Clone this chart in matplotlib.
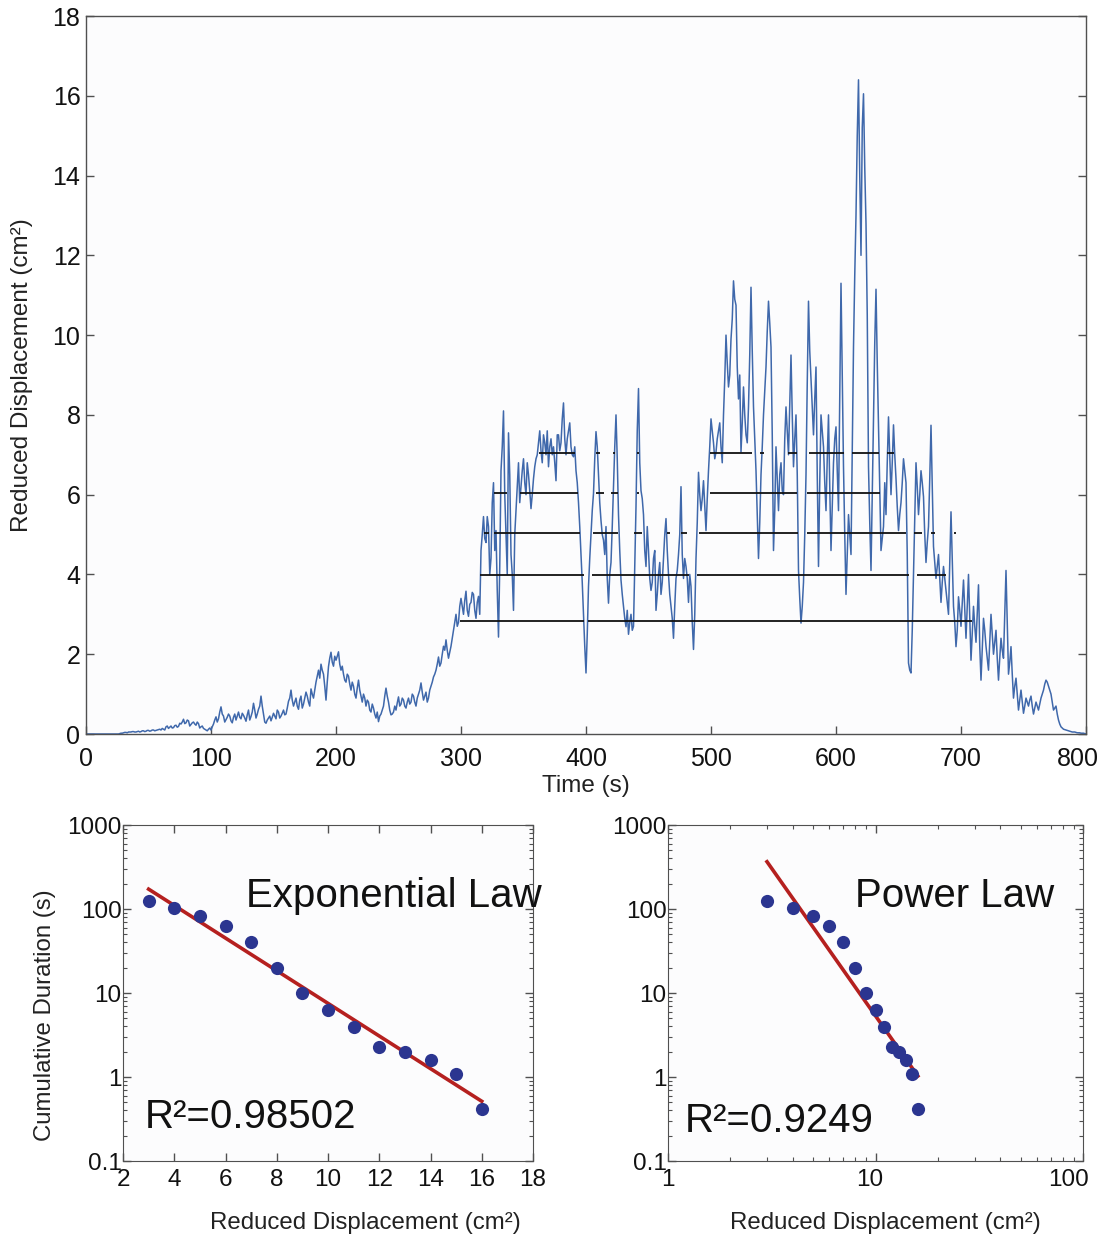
import numpy as np
import matplotlib
matplotlib.use("Agg")
import matplotlib.pyplot as plt
from matplotlib.ticker import FixedLocator, FixedFormatter, LogLocator, NullFormatter
from matplotlib.transforms import ScaledTranslation

plt.rcParams['font.family'] = ['Liberation Sans', 'DejaVu Sans']

# ---------------- data ----------------
# reduced displacement (cm^2) sampled at even seconds 0, 2, ..., 800
displacement_even = [
    0, 0, 0, 0, 0, 0, 0, 0, 0, 0,
    0, 0, 0, 0, 0.02, 0.03, 0.04, 0.05, 0.05, 0.06,
    0.05, 0.07, 0.06, 0.08, 0.07, 0.09, 0.08, 0.1, 0.09, 0.11,
    0.1, 0.12, 0.18, 0.14, 0.2, 0.16, 0.22, 0.19, 0.25, 0.37,
    0.28, 0.33, 0.24, 0.3, 0.22, 0.26, 0.18, 0.14, 0.1, 0.12,
    0.1, 0.25, 0.43, 0.38, 0.68, 0.45, 0.36, 0.5, 0.33, 0.42,
    0.35, 0.55, 0.38, 0.47, 0.32, 0.6, 0.44, 0.77, 0.4, 0.62,
    0.95, 0.5, 0.27, 0.4, 0.33, 0.52, 0.38, 0.55, 0.45, 0.6,
    0.5, 0.82, 1.1, 0.7, 0.9, 0.62, 0.95, 0.75, 1.05, 0.8,
    1.13, 0.9, 1.3, 1.6, 1.75, 1.5, 0.85, 1.69, 2.05, 1.7,
    1.85, 2.06, 1.6, 1.5, 1.3, 1.45, 1.1, 1.2, 0.9, 1.35,
    0.95, 1.0, 0.7, 0.8, 0.55, 0.65, 0.4, 0.31, 0.5, 0.7,
    1.15, 0.8, 0.48, 0.55, 0.6, 0.93, 0.75, 0.85, 0.65, 0.9,
    0.8, 0.95, 0.7, 1.0, 1.28, 0.85, 1.05, 0.9, 1.2, 1.43,
    1.6, 1.93, 1.78, 2.2, 2.36, 1.9, 2.2, 2.6, 3.0, 2.8,
    3.4, 3.0, 3.58, 2.95, 3.3, 3.5, 2.9, 3.45, 4.6, 5.45,
    4.8, 5.2, 4.4, 6.3, 5.1, 2.43, 6.6, 8.1, 5.0, 7.55,
    4.5, 3.1, 5.6, 6.8, 6.2, 6.9, 6.0, 6.5, 5.65, 6.4,
    6.9, 7.3, 7.1, 7.5, 7.0, 6.7, 7.4, 7.2, 6.35, 7.5,
    7.3, 8.3, 7.0, 7.6, 7.2, 6.95, 6.6, 5.8, 4.5, 3.0,
    1.53, 3.7, 5.0, 6.03, 7.58, 6.5, 5.35, 4.86, 5.2, 3.28,
    4.3, 6.2, 8.0, 5.5, 3.86, 3.2, 2.69, 2.5, 3.0, 2.7,
    5.7, 8.66, 6.1, 5.5, 4.2, 4.6, 3.6, 4.4, 3.1, 4.0,
    3.5, 4.4, 5.4, 4.0, 3.2, 2.4, 3.9, 4.5, 6.2, 3.9,
    4.2, 3.3, 3.7, 2.12, 4.4, 6.56, 5.6, 6.35, 5.1, 6.6,
    7.9, 7.3, 7.07, 7.6, 7.2, 8.0, 10.0, 8.7, 9.9, 11.36,
    10.75, 8.4, 7.07, 8.7, 7.5, 8.2, 11.2, 8.2, 6.6, 4.4,
    6.5, 8.0, 9.2, 10.85, 9.7, 4.6, 7.2, 5.6, 6.8, 6.0,
    8.2, 7.0, 9.5, 6.7, 8.0, 4.1, 2.78, 3.8, 6.5, 10.85,
    8.9, 7.5, 9.2, 4.2, 8.0, 7.2, 5.6, 8.0, 4.6, 6.8,
    7.7, 5.6, 11.3, 6.7, 3.5, 5.5, 4.5, 9.7, 13.0, 16.4,
    12.0, 16.05, 12.8, 6.7, 4.1, 8.0, 11.15, 7.7, 4.6, 5.2,
    5.5, 7.95, 6.0, 7.75, 6.4, 5.1, 5.8, 6.9, 6.3, 1.78,
    1.53, 4.0, 6.8, 5.5, 6.6, 5.95, 4.3, 5.2, 7.74, 4.7,
    3.9, 4.5, 3.3, 4.2, 3.6, 3.0, 5.57, 3.2, 2.19, 3.44,
    2.7, 3.86, 2.4, 4.0, 1.85, 3.2, 2.3, 3.74, 1.35, 2.9,
    2.2, 1.6, 3.0, 2.0, 2.6, 1.35, 2.4, 1.9, 4.1, 1.5,
    2.19, 0.9, 1.4, 0.6, 1.1, 0.52, 0.9, 0.7, 0.95, 0.5,
    0.8, 0.6, 0.9, 1.1, 1.35, 1.2, 1.0, 0.6, 0.7, 0.35,
    0.18, 0.12, 0.1, 0.08, 0.06, 0.05, 0.04, 0.03, 0.02, 0.02,
    0.0,
]
# reduced displacement (cm^2) sampled at odd seconds 1, 3, ..., 799
displacement_odd = [
    0, 0, 0, 0, 0, 0, 0, 0, 0, 0,
    0, 0, 0, 0.01, 0.02, 0.04, 0.03, 0.05, 0.06, 0.05,
    0.06, 0.05, 0.08, 0.06, 0.09, 0.07, 0.1, 0.08, 0.1, 0.12,
    0.14, 0.1, 0.2, 0.17, 0.15, 0.21, 0.17, 0.27, 0.3, 0.26,
    0.35, 0.2, 0.28, 0.25, 0.3, 0.15, 0.2, 0.12, 0.08, 0.15,
    0.18, 0.35, 0.3, 0.55, 0.5, 0.3, 0.42, 0.45, 0.28, 0.5,
    0.45, 0.42, 0.52, 0.4, 0.48, 0.35, 0.55, 0.6, 0.5, 0.7,
    0.7, 0.3, 0.35, 0.45, 0.42, 0.45, 0.6, 0.4, 0.52, 0.48,
    0.65, 0.9, 0.85, 0.8, 0.7, 0.85, 0.65, 0.9, 0.95, 0.7,
    1.0, 1.1, 1.45, 1.4, 1.6, 1.2, 1.3, 1.9, 1.8, 1.95,
    1.95, 1.75, 1.7, 1.35, 1.5, 1.25, 1.3, 1.0, 1.15, 1.1,
    0.8, 0.9, 0.85, 0.6, 0.75, 0.5, 0.55, 0.45, 0.6, 0.95,
    0.95, 0.6, 0.5, 0.7, 0.78, 0.7, 0.9, 0.7, 0.8, 0.75,
    1.0, 0.8, 0.9, 1.1, 1.05, 0.95, 0.8, 1.1, 1.3, 1.5,
    1.75, 1.7, 2.0, 2.1, 2.1, 2.05, 2.4, 2.8, 2.7, 3.2,
    3.2, 3.35, 3.1, 3.25, 3.55, 3.1, 3.3, 3.0, 5.0, 4.9,
    5.45, 4.0, 5.8, 4.6, 3.6, 4.2, 7.2, 6.0, 4.0, 6.5,
    4.0, 5.0, 6.2, 5.8, 6.6, 6.3, 6.8, 6.1, 6.0, 6.7,
    7.0, 7.6, 6.8, 7.3, 7.6, 7.2, 7.0, 6.8, 7.5, 7.1,
    7.9, 7.4, 7.4, 7.8, 7.0, 7.2, 6.3, 5.2, 3.8, 2.2,
    2.5, 4.4, 5.6, 6.9, 7.2, 5.8, 5.0, 4.5, 3.9, 4.0,
    5.2, 7.2, 6.9, 4.6, 3.5, 2.9, 3.1, 2.8, 2.6, 4.2,
    7.6, 6.8, 5.9, 4.6, 5.2, 3.9, 3.8, 4.6, 3.5, 4.3,
    3.8, 5.0, 4.6, 3.5, 2.9, 3.2, 4.1, 5.0, 4.5, 4.4,
    3.9, 4.0, 2.8, 3.0, 5.3, 6.0, 5.9, 5.7, 5.9, 7.2,
    7.6, 6.9, 7.4, 7.8, 6.8, 8.9, 9.3, 9.0, 10.4, 10.9,
    9.2, 9.0, 7.8, 8.0, 7.3, 9.5, 9.6, 7.4, 5.5, 5.3,
    7.2, 8.6, 10.1, 10.3, 7.5, 5.6, 6.4, 6.5, 6.1, 7.4,
    7.6, 8.3, 8.0, 7.4, 6.5, 3.4, 3.2, 5.0, 8.8, 9.6,
    8.2, 8.4, 6.5, 6.3, 7.6, 6.3, 6.9, 6.2, 5.7, 7.4,
    6.6, 8.5, 9.0, 5.0, 4.5, 5.0, 7.0, 11.5, 15.0, 14.0,
    15.2, 14.2, 10.5, 5.3, 6.0, 9.8, 9.3, 6.0, 4.9, 6.3,
    6.8, 7.0, 6.8, 7.0, 5.7, 5.5, 6.3, 6.6, 4.5, 1.6,
    2.6, 5.4, 6.2, 6.0, 6.3, 5.0, 4.8, 6.4, 6.2, 4.3,
    4.2, 3.9, 3.8, 3.9, 3.3, 4.3, 4.4, 2.8, 2.6, 3.1,
    3.3, 3.1, 3.2, 2.9, 2.5, 2.7, 3.0, 2.2, 2.1, 2.6,
    1.9, 2.3, 2.5, 2.3, 1.9, 1.9, 2.1, 3.0, 2.8, 1.8,
    1.5, 1.2, 1.0, 0.85, 0.8, 0.7, 0.8, 0.85, 0.7, 0.65,
    0.7, 0.75, 1.0, 1.25, 1.3, 1.1, 0.8, 0.65, 0.5, 0.25,
    0.15, 0.11, 0.09, 0.07, 0.05, 0.05, 0.03, 0.03, 0.02, 0.01,
]
n_samples = len(displacement_even) + len(displacement_odd)
displacement = np.empty(n_samples)
displacement[0::2] = displacement_even
displacement[1::2] = displacement_odd
time_s = np.arange(n_samples)  # one sample per second

# threshold levels (cm^2) and the time intervals (s) above each
thresholds = [2.83, 3.98, 5.05, 6.05, 7.05]
segments_2p8 = [(299.5, 398), (401.6, 708.5)]
segments_4 = [(315.5, 398.5), (404.5, 482), (489, 658), (664.5, 688)]
segments_5 = [(318, 322), (326, 395.5), (405.6, 425.5), (438, 445), (465, 467.5),
              (475.6, 481), (490, 569.5), (576.5, 655.7), (662, 669), (676, 679), (694, 696)]
segments_6 = [(326, 337), (347.5, 393.4), (408, 414), (420, 425.4), (441, 442.5),
              (499, 569), (577, 635)]
segments_7 = [(362, 391), (408, 411), (421.6, 423), (441, 442.5), (499.5, 533), (539, 542),
              (561.5, 569), (578, 606), (613, 634), (641, 646)]
threshold_segments = [segments_2p8, segments_4, segments_5, segments_6, segments_7]

# cumulative duration vs. reduced displacement
rd_levels = [3, 4, 5, 6, 7, 8, 9, 10, 11, 12, 13, 14, 15, 16]
cum_duration = [125, 104, 82, 62, 40, 20, 10, 6.3, 3.9, 2.3, 2.0, 1.58, 1.08, 0.42]

exp_label = "Exponential Law"
exp_r2_text = "R\u00b2=0.98502"
pow_label = "Power Law"
pow_r2_text = "R\u00b2=0.9249"

top_xticks = [0, 100, 200, 300, 400, 500, 600, 700, 800]
top_yticks = [0, 2, 4, 6, 8, 10, 12, 14, 16, 18]
dur_ticks = [0.1, 1, 10, 100, 1000]
dur_ticklabels = ["0.1", "1", "10", "100", "1000"]
exp_xticks = [2, 4, 6, 8, 10, 12, 14, 16, 18]
pow_xticks = [1, 10, 100]
pow_xticklabels = ["1", "10", "100"]

# ---------------- figure ----------------
W, H = 1103, 1235
fig = plt.figure(figsize=(W / 100, H / 100), dpi=100)

def box(l, t, r, b):
    return [l / W, 1 - b / H, (r - l) / W, (b - t) / H]

def nudge(label, dx_px):
    label.set_transform(label.get_transform() +
                        ScaledTranslation(dx_px / 100, 0, fig.dpi_scale_trans))

face = "#fcfcfd"
spine_c = "#505050"
line_blue = "#3f68ab"
text_c = "#111111"

ax = fig.add_axes(box(86, 16, 1086, 734))
ax.set_facecolor(face)
ax.plot(time_s, displacement, color=line_blue, lw=1.1, zorder=2)
for lev, segs in zip(thresholds, threshold_segments):
    for a, b in segs:
        ax.hlines(lev, a, b, colors="#111111", lw=1.3, zorder=3)
ax.set_xlim(0, 800)
ax.set_ylim(0, 18)
ax.set_xticks(top_xticks)
ax.set_yticks(top_yticks)
ax.tick_params(direction="in", length=6, width=1, colors=spine_c, labelcolor=text_c,
               labelsize=18, right=True, top=False)
ax.tick_params(axis="x", pad=9)
ax.tick_params(axis="y", pad=4)
ax.set_xlabel("Time (s)", fontsize=17.5, labelpad=3, color="#222222")
ax.set_ylabel("Reduced Displacement (cm\u00b2)", fontsize=17.5, labelpad=14, color="#222222")
for s in ax.spines.values():
    s.set_color(spine_c)
    s.set_linewidth(1.0)
nudge(ax.get_xticklabels()[-1], -8)

dot_c = "#2b3590"
red_c = "#b5201f"

x_arr = np.array(rd_levels, dtype=float)
y_arr = np.array(cum_duration, dtype=float)
xf = np.array([x_arr.min(), x_arr.max()])

# exponential panel
ax1 = fig.add_axes(box(123, 825, 533, 1161))
ax1.set_facecolor(face)
ax1.set_yscale("log")
b1, a1 = np.polyfit(x_arr, np.log10(y_arr), 1)
ax1.plot(xf, 10 ** (a1 + b1 * xf), color=red_c, lw=2.6, zorder=2)
ax1.plot(x_arr, y_arr, "o", color=dot_c, ms=9.5, mec="none", zorder=3)
ax1.set_xlim(2, 18)
ax1.set_ylim(0.1, 1000)
ax1.set_xticks(exp_xticks)
ax1.yaxis.set_major_locator(FixedLocator(dur_ticks))
ax1.yaxis.set_major_formatter(FixedFormatter(dur_ticklabels))
ax1.yaxis.set_minor_locator(LogLocator(base=10, subs=np.arange(2, 10)))
ax1.yaxis.set_minor_formatter(NullFormatter())
ax1.tick_params(which="both", direction="in", top=True, right=True, colors=spine_c,
                labelcolor=text_c, labelsize=17.5)
ax1.tick_params(axis="x", pad=6)
ax1.tick_params(axis="y", pad=1)
ax1.tick_params(which="major", length=6, width=1)
ax1.tick_params(which="minor", length=3, width=0.8)
ax1.set_xlabel("Reduced Displacement (cm\u00b2)", fontsize=17.3, color="#222222")
ax1.xaxis.set_label_coords(0.59, -0.152)
ax1.set_ylabel("Cumulative Duration (s)", fontsize=17.3, color="#222222")
ax1.yaxis.set_label_coords(-0.163, 0.435)
ax1.text(0.30, 0.79, exp_label, transform=ax1.transAxes, fontsize=29, color=text_c,
         ha="left", va="center", zorder=4)
ax1.text(0.053, 0.13, exp_r2_text, transform=ax1.transAxes, fontsize=29, color=text_c,
         ha="left", va="center", zorder=4)
for s in ax1.spines.values():
    s.set_color(spine_c)

# power-law panel
ax2 = fig.add_axes(box(668, 825, 1083, 1161))
ax2.set_facecolor(face)
ax2.set_xscale("log")
ax2.set_yscale("log")
b2, a2 = np.polyfit(np.log10(x_arr), np.log10(y_arr), 1)
ax2.plot(xf, 10 ** (a2 + b2 * np.log10(xf)), color=red_c, lw=2.6, zorder=2)
ax2.plot(x_arr, y_arr, "o", color=dot_c, ms=9.5, mec="none", zorder=3)
ax2.set_xlim(1, 100)
ax2.set_ylim(0.1, 1000)
ax2.xaxis.set_major_locator(FixedLocator(pow_xticks))
ax2.xaxis.set_major_formatter(FixedFormatter(pow_xticklabels))
ax2.xaxis.set_minor_locator(LogLocator(base=10, subs=np.arange(2, 10)))
ax2.xaxis.set_minor_formatter(NullFormatter())
ax2.yaxis.set_major_locator(FixedLocator(dur_ticks))
ax2.yaxis.set_major_formatter(FixedFormatter(dur_ticklabels))
ax2.yaxis.set_minor_locator(LogLocator(base=10, subs=np.arange(2, 10)))
ax2.yaxis.set_minor_formatter(NullFormatter())
ax2.tick_params(which="both", direction="in", top=True, right=True, colors=spine_c,
                labelcolor=text_c, labelsize=17.5)
ax2.tick_params(axis="x", pad=6)
ax2.tick_params(axis="y", pad=1)
ax2.tick_params(which="major", length=6, width=1)
ax2.tick_params(which="minor", length=3, width=0.8)
ax2.set_xlabel("Reduced Displacement (cm\u00b2)", fontsize=17.3, color="#222222")
ax2.xaxis.set_label_coords(0.525, -0.152)
ax2.text(0.45, 0.79, pow_label, transform=ax2.transAxes, fontsize=29, color=text_c,
         ha="left", va="center", zorder=4)
ax2.text(0.04, 0.12, pow_r2_text, transform=ax2.transAxes, fontsize=29, color=text_c,
         ha="left", va="center", zorder=4)
for s in ax2.spines.values():
    s.set_color(spine_c)
xl2 = ax2.get_xticklabels()
nudge(xl2[1], -6)
nudge(xl2[2], -14)

fig.savefig("out.png", dpi=100, facecolor="white")
